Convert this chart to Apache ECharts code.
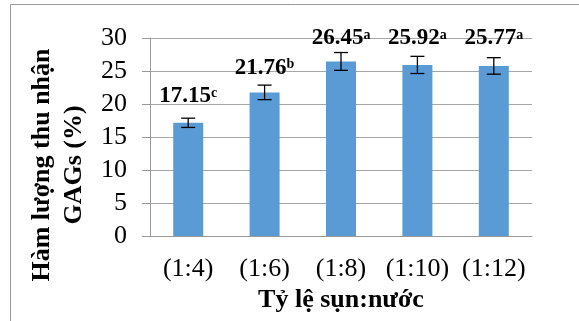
<!DOCTYPE html>
<html>
<head>
<meta charset="utf-8">
<script src="https://cdn.jsdelivr.net/npm/echarts@6/dist/echarts.min.js"></script>
<style>html,body{margin:0;padding:0;background:#fff;}#c{width:579px;height:321px;}</style>
</head>
<body>
<div id="c"></div>
<script>
var categories = ['(1:4)', '(1:6)', '(1:8)', '(1:10)', '(1:12)'];
var values = [17.15, 21.76, 26.45, 25.92, 25.77];
var errors = [0.7, 1.1, 1.35, 1.3, 1.25];
var letters = ['c', 'b', 'a', 'a', 'a'];
var yTicks = { min: 0, max: 30, interval: 5 };
var xTitle = 'Tỷ lệ sụn:nước';
var yTitle = 'Hàm lượng thu nhận\nGAGs (%)';
var labelLift = [16.5, 14.5, 13, 16.5, 17.5];

var FONT = '"Liberation Serif", "Times New Roman", serif';
var chart = echarts.init(document.getElementById('c'), null, { renderer: 'canvas' });

var errData = values.map(function (v, i) {
  return [i, v - errors[i], v + errors[i], v];
});

chart.setOption({
  animation: false,
  backgroundColor: '#fff',
  graphic: [{
    type: 'rect', silent: true, z: -1,
    shape: { x: 10.5, y: 4.5, width: 700, height: 400 },
    style: { fill: 'none', stroke: '#999', lineWidth: 1 }
  }],
  grid: { left: 150, right: 47, top: 38, bottom: 85, containLabel: false, outerBoundsMode: 'none' },
  xAxis: {
    type: 'category',
    data: categories,
    name: xTitle,
    nameLocation: 'middle',
    nameGap: 49,
    nameTextStyle: { fontFamily: FONT, fontSize: 26, fontWeight: 'bold', color: '#000' },
    axisLine: { lineStyle: { color: '#999', width: 1 } },
    axisTick: { show: false },
    axisLabel: { fontFamily: FONT, fontSize: 26, color: '#000', margin: 20, interval: 0 }
  },
  yAxis: {
    type: 'value',
    min: yTicks.min, max: yTicks.max, interval: yTicks.interval,
    name: yTitle,
    nameLocation: 'middle',
    nameGap: 56,
    nameTextStyle: { fontFamily: FONT, fontSize: 26, fontWeight: 'bold', color: '#000', lineHeight: 32, padding: [0, 56, 0, 0] },
    axisLine: { show: true, lineStyle: { color: '#999', width: 1 } },
    axisTick: { show: true, length: 8, lineStyle: { color: '#999' } },
    splitLine: { lineStyle: { color: '#a6a6a6', width: 1 } },
    axisLabel: { fontFamily: FONT, fontSize: 26, color: '#000', margin: 23 }
  },
  series: [{
    type: 'bar',
    data: values,
    barWidth: 30,
    itemStyle: { color: '#5b9bd5' },
    z: 2
  }, {
    type: 'custom',
    data: errData,
    z: 3,
    renderItem: function (params, api) {
      var i = params.dataIndex;
      var x = api.value(0);
      var lo = api.coord([x, api.value(1)]);
      var hi = api.coord([x, api.value(2)]);
      var top = api.coord([x, api.value(3)]);
      var w = 7;
      var st = { stroke: '#000', lineWidth: 1.3 };
      return {
        type: 'group',
        children: [
          { type: 'line', shape: { x1: hi[0], y1: hi[1], x2: lo[0], y2: lo[1] }, style: st },
          { type: 'line', shape: { x1: hi[0] - w, y1: hi[1], x2: hi[0] + w, y2: hi[1] }, style: st },
          { type: 'line', shape: { x1: lo[0] - w, y1: lo[1], x2: lo[0] + w, y2: lo[1] }, style: st },
          {
            type: 'text',
            x: top[0], y: top[1] - labelLift[i],
            style: {
              text: '{v|' + values[i].toFixed(2) + '}{s|' + letters[i] + '}',
              align: 'center', verticalAlign: 'bottom',
              rich: {
                v: { fontFamily: FONT, fontSize: 23, fontWeight: 'bold', fill: '#000', lineHeight: 20 },
                s: { fontFamily: FONT, fontSize: 14, fontWeight: 'bold', fill: '#000', lineHeight: 12, verticalAlign: 'top' }
              }
            }
          }
        ]
      };
    }
  }]
});
</script>
</body>
</html>
